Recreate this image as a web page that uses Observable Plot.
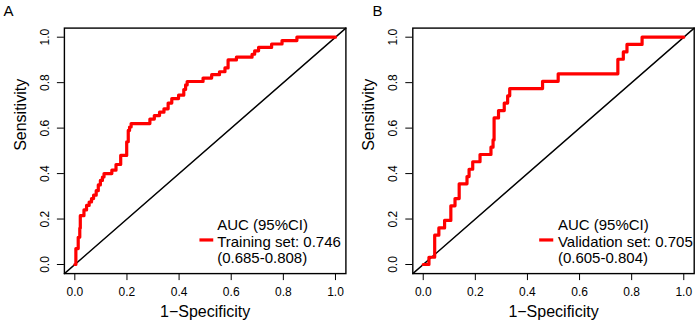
<!DOCTYPE html>
<html><head><meta charset="utf-8">
<script src="https://cdn.jsdelivr.net/npm/d3@7"></script>
<script src="https://cdn.jsdelivr.net/npm/@observablehq/plot@0.6"></script>
<style>
html,body{margin:0;padding:0;background:#fff;}
#wrap{display:flex;width:697px;height:324px;}
#wrap svg{display:block;flex:none;}
</style></head><body><div id="wrap"></div>
<script>
// ROC vertices (top of each vertical jump), drawn with a step-after curve
const fprTrain = [0, 0.004,0.013,0.019,0.021,0.035,0.045,0.055,0.064,0.072,0.082, 0.09,0.098,0.106,0.112,0.142,0.158,0.176,0.199,0.205,0.21, 0.216,0.288,0.305,0.325,0.342,0.358,0.372,0.398,0.418,0.425, 0.431,0.492,0.525,0.555,0.576,0.588,0.62,0.68,0.69,0.705, 0.755,0.795,0.852, 1];
const tprTrain = [0, 0.07,0.12,0.16,0.215,0.24,0.26,0.275,0.29,0.305,0.325, 0.35,0.37,0.385,0.4,0.415,0.44,0.48,0.54,0.59,0.605, 0.62,0.64,0.655,0.67,0.685,0.71,0.73,0.745,0.77,0.79, 0.805,0.82,0.835,0.848,0.865,0.9,0.912,0.925,0.94,0.955, 0.97,0.985,1, 1];
const fprValid = [0, 0.022,0.044,0.06,0.082,0.106,0.122,0.138,0.168,0.176,0.19, 0.218,0.26,0.268,0.272,0.289,0.311,0.324,0.332,0.458,0.518, 0.747,0.768,0.782,0.84, 1];
const tprValid = [0, 0.032,0.129,0.161,0.194,0.258,0.29,0.355,0.387,0.419,0.452, 0.484,0.516,0.548,0.645,0.677,0.71,0.742,0.774,0.806,0.839, 0.903,0.935,0.968,1, 1];
const axisTicks = [0, 0.2, 0.4, 0.6, 0.8, 1.0];
const panelLabels = ["A", "B"];
const legendTitle = "AUC (95%CI)";
const seriesNames = ["Training set", "Validation set"];
const aucValues = ["0.746", "0.705"];
const aucCI = ["0.685-0.808", "0.605-0.804"];
const xTitle = "1\u2212Specificity";
const yTitle = "Sensitivity";

const FONT = '"Liberation Sans", Arial, Helvetica, sans-serif';
const lim = [-0.04, 1.04];
const fmt = d3.format(".1f");

function panel(i, fpr, tpr, o) {
  const pts = fpr.map((x, j) => ({x, y: tpr[j]}));
  return Plot.plot({
    width: o.width, height: 324,
    marginLeft: o.ml, marginRight: o.mr, marginTop: 27.6, marginBottom: 50.9,
    x: {domain: lim}, y: {domain: lim},
    style: {fontFamily: FONT, fontSize: "12px", color: "black", background: "white", overflow: "visible"},
    marks: [
      Plot.axisX({ticks: axisTicks, tickSize: 7, tickPadding: 6.5, tickFormat: fmt, label: null, fontSize: 12}),
      Plot.axisY({ticks: axisTicks, tickSize: 7, tickPadding: 8.6, tickRotate: -90, tickFormat: fmt, label: null, fontSize: 12}),
      Plot.line(lim.map(v => ({x: v, y: v})), {x: "x", y: "y", stroke: "black", strokeWidth: 1.4}),
      Plot.line(pts, {x: "x", y: "y", stroke: "#ff0000", strokeWidth: 3.2, curve: "step-after"}),
      Plot.frame({stroke: "black", strokeWidth: 1.4}),
      Plot.text([yTitle], {frameAnchor: "left", rotate: -90, lineAnchor: "bottom", dx: -38.4, fontSize: 16}),
      Plot.text([xTitle], {frameAnchor: "bottom", lineAnchor: "bottom", dy: 43, fontSize: 16}),
      Plot.text([panelLabels[i]], {frameAnchor: "top-left", textAnchor: "start", lineAnchor: "bottom", dx: o.letterDx, dy: -12.6, fontSize: 15}),
      Plot.ruleY([0], {x1: o.legLine[0], x2: o.legLine[1], y: 0.108, stroke: "#ff0000", strokeWidth: 3.2}),
      Plot.text([`${legendTitle}\n${seriesNames[i]}: ${aucValues[i]}\n(${aucCI[i]})`],
        {x: o.legX, y: 0.0066, textAnchor: "start", lineAnchor: "bottom", lineHeight: 1.1, fontSize: 15})
    ]
  });
}

const wrap = document.getElementById("wrap");
wrap.appendChild(panel(0, fprTrain, tprTrain, {width: 348, ml: 63.9, mr: 2.6, letterDx: -60.9, legX: 0.546, legLine: [0.48, 0.533]}));
wrap.appendChild(panel(1, fprValid, tprValid, {width: 349, ml: 64.3, mr: 3.3, letterDx: -40.3, legX: 0.517, legLine: [0.447, 0.501]}));
</script>
</body></html>
